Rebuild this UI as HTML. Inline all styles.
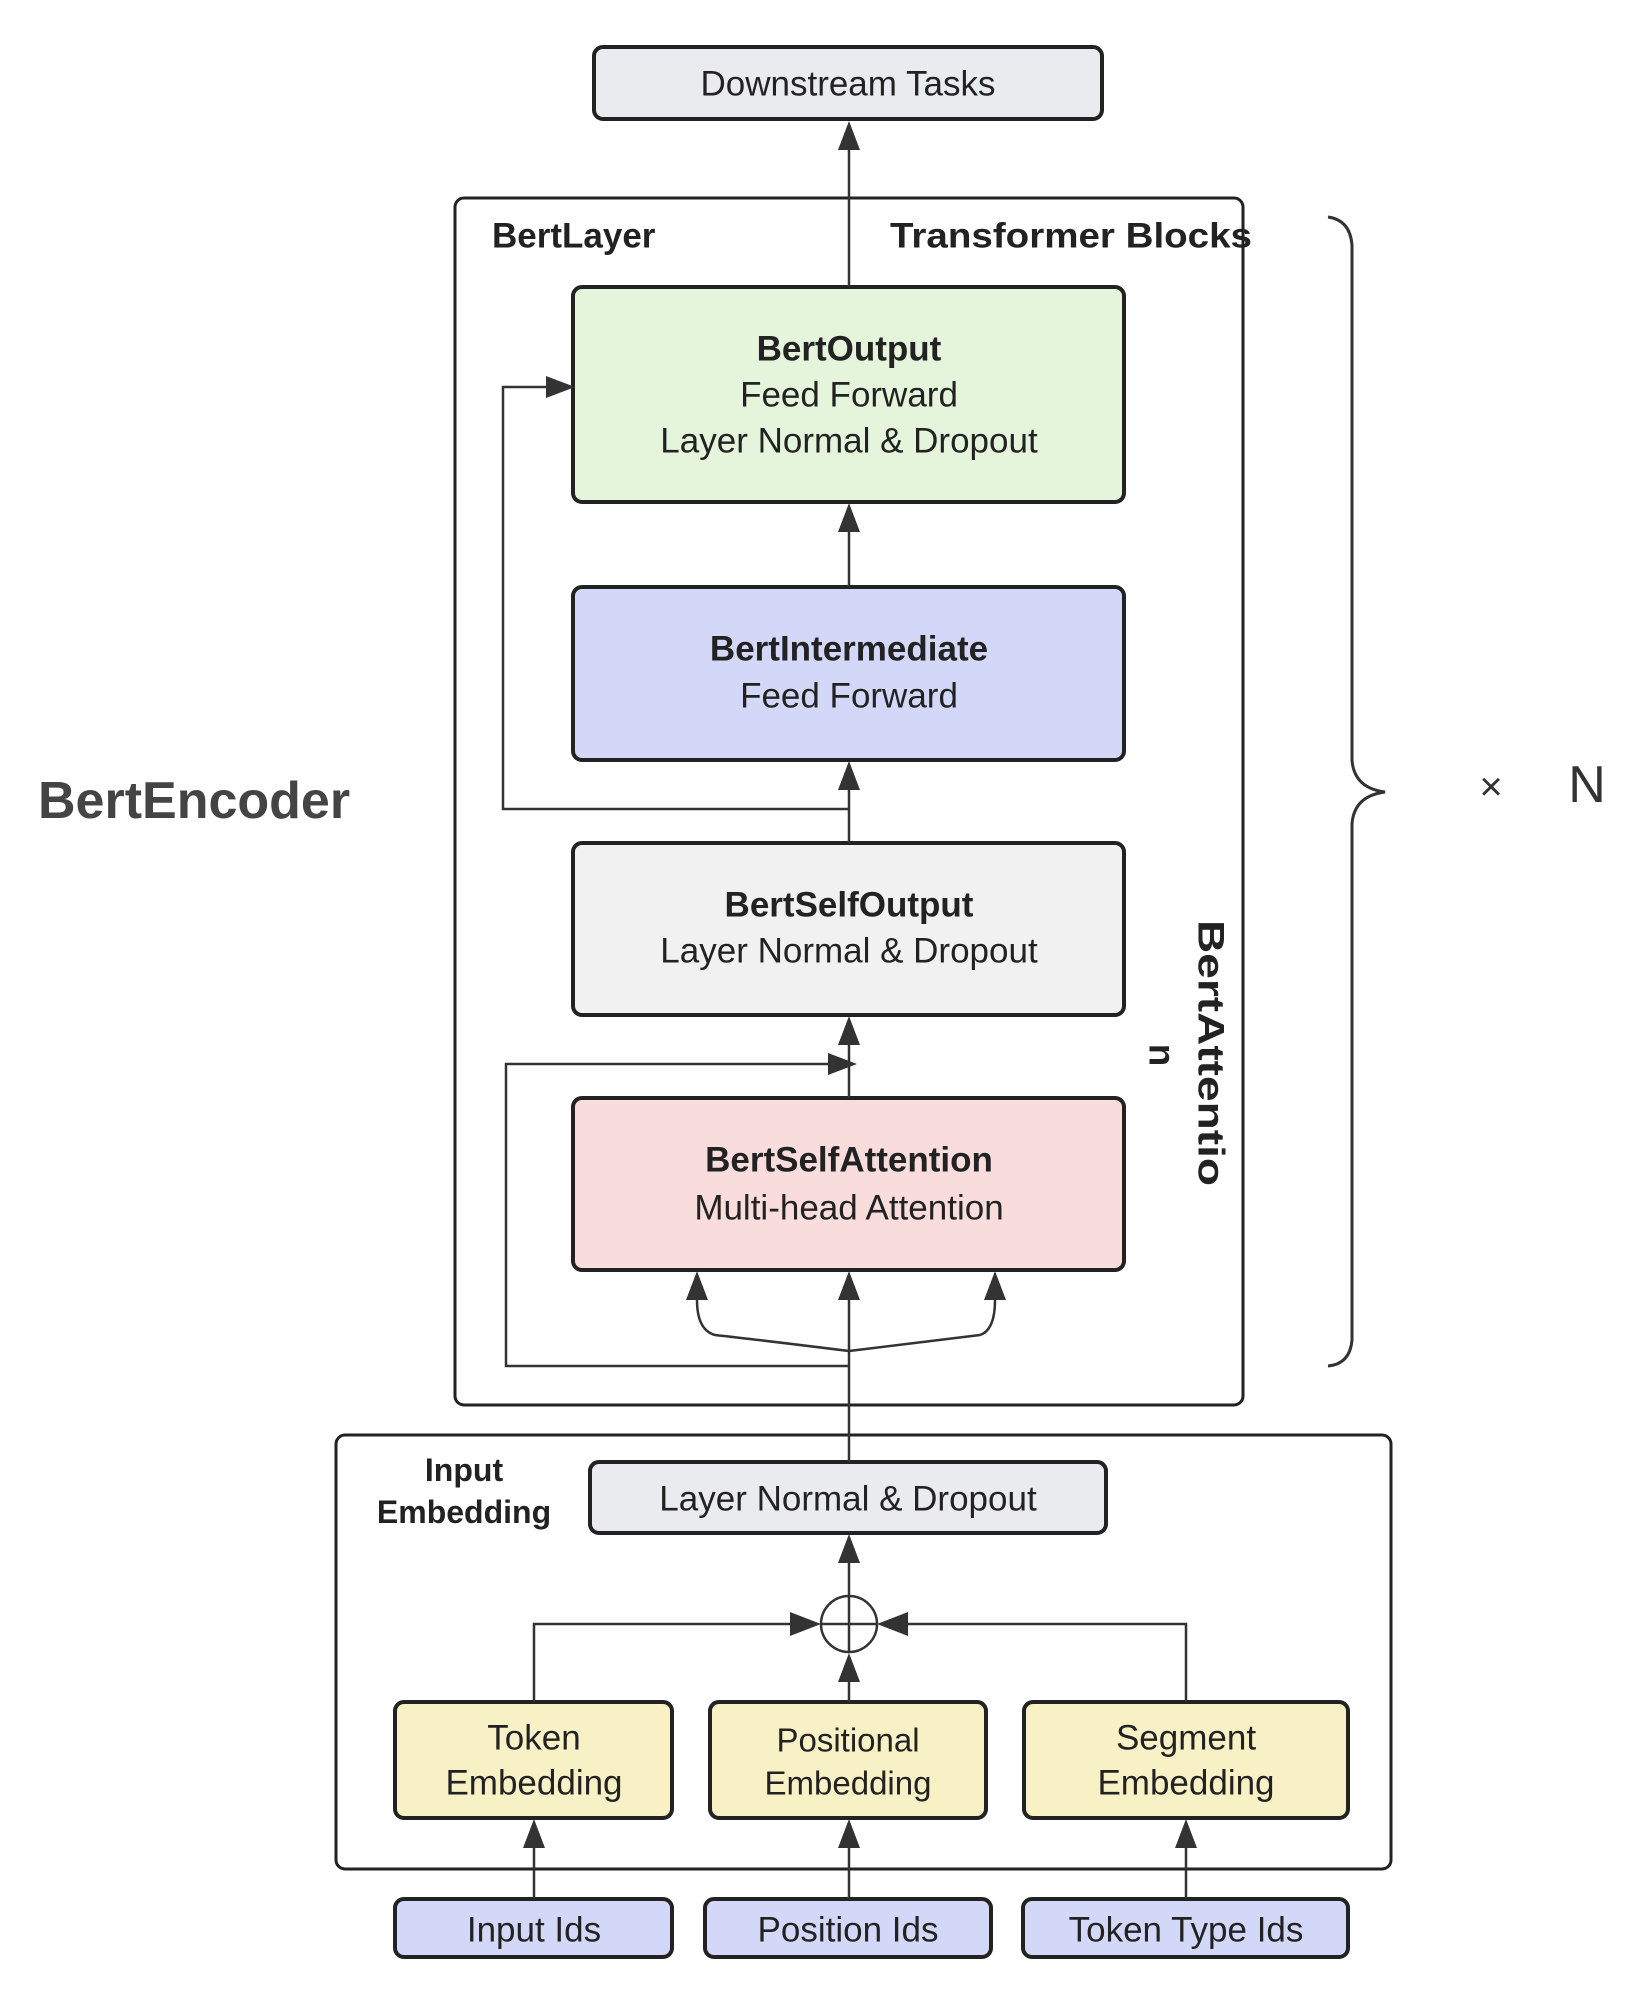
<!DOCTYPE html>
<html><head><meta charset="utf-8"><style>
html,body{margin:0;padding:0;background:#fff;}
svg{display:block;}
text{font-family:"Liberation Sans",sans-serif;fill:#222;}
.b{font-weight:bold;}
</style></head><body>
<svg width="1634" height="1989" viewBox="0 0 1634 1989" xmlns="http://www.w3.org/2000/svg">
<g stroke="#222" stroke-width="3" fill="none">
<rect x="455" y="198" width="788" height="1207" rx="9"/>
<rect x="336" y="1435" width="1055" height="434" rx="9"/>
</g>
<g stroke="#222" stroke-width="4">
<rect x="594" y="47" width="508" height="72" rx="9" fill="#e9ebee"/>
<rect x="573" y="287" width="551" height="215" rx="9" fill="#e4f5dc"/>
<rect x="573" y="587" width="551" height="173" rx="9" fill="#d4d8f8"/>
<rect x="573" y="843" width="551" height="172" rx="9" fill="#f1f1f1"/>
<rect x="573" y="1098" width="551" height="172" rx="9" fill="#f9dddd"/>
<rect x="590" y="1462" width="516" height="71" rx="9" fill="#e9ebee"/>
<rect x="395" y="1702" width="277" height="116" rx="9" fill="#f8f1c6"/>
<rect x="710" y="1702" width="276" height="116" rx="9" fill="#f8f1c6"/>
<rect x="1024" y="1702" width="324" height="116" rx="9" fill="#f8f1c6"/>
<rect x="395" y="1899" width="277" height="58" rx="9" fill="#d4d8f8"/>
<rect x="705" y="1899" width="286" height="58" rx="9" fill="#d4d8f8"/>
<rect x="1023" y="1899" width="325" height="58" rx="9" fill="#d4d8f8"/>
</g>
<g stroke="#333" stroke-width="2.5" fill="none">
<line x1="849" y1="287" x2="849" y2="140"/>
<line x1="849" y1="587" x2="849" y2="520"/>
<line x1="849" y1="843" x2="849" y2="780"/>
<polyline points="849,809 503,809 503,387 555,387"/>
<line x1="849" y1="1098" x2="849" y2="1035"/>
<polyline points="849,1366 506,1366 506,1064 835,1064"/>
<line x1="849" y1="1462" x2="849" y2="1290"/>
<path d="M849,1351 Q760,1340 715,1335 Q697,1330 697,1300 L697,1290"/>
<path d="M849,1351 Q940,1340 980,1335 Q995,1330 995,1300 L995,1290"/>
<line x1="849" y1="1596" x2="849" y2="1553"/>
<circle cx="849" cy="1624" r="28"/>
<line x1="821" y1="1624" x2="877" y2="1624"/>
<line x1="849" y1="1596" x2="849" y2="1652"/>
<line x1="849" y1="1702" x2="849" y2="1670"/>
<polyline points="534,1702 534,1624 800,1624"/>
<polyline points="1186,1702 1186,1624 898,1624"/>
<line x1="534" y1="1899" x2="534" y2="1838"/>
<line x1="849" y1="1899" x2="849" y2="1838"/>
<line x1="1186" y1="1899" x2="1186" y2="1838"/>
<path d="M1328,217 Q1350,220 1352,245 L1352,760 Q1354,788 1385,792 Q1354,796 1352,824 L1352,1340 Q1350,1364 1328,1366" stroke="#333" stroke-width="3"/>
</g>
<g fill="#333">
<polygon points="849,121 838,150 860,150"/>
<polygon points="849,503 838,532 860,532"/>
<polygon points="849,761 838,790 860,790"/>
<polygon points="849,1016 838,1045 860,1045"/>
<polygon points="575,387 546,376 546,398"/>
<polygon points="857,1064 828,1053 828,1075"/>
<polygon points="697,1271 686,1300 708,1300"/>
<polygon points="849,1271 838,1300 860,1300"/>
<polygon points="995,1271 984,1300 1006,1300"/>
<polygon points="849,1534 838,1563 860,1563"/>
<polygon points="849,1653 838,1682 860,1682"/>
<polygon points="821,1624 790,1612 790,1636"/>
<polygon points="877,1624 908,1612 908,1636"/>
<polygon points="534,1819 523,1848 545,1848"/>
<polygon points="849,1819 838,1848 860,1848"/>
<polygon points="1186,1819 1175,1848 1197,1848"/>
</g>
<g font-size="35" text-anchor="middle" dominant-baseline="central">
<text x="848" y="84">Downstream Tasks</text>
<text x="849" y="349" class="b">BertOutput</text>
<text x="849" y="395">Feed Forward</text>
<text x="849" y="441">Layer Normal &amp; Dropout</text>
<text x="849" y="649" class="b">BertIntermediate</text>
<text x="849" y="696">Feed Forward</text>
<text x="849" y="905" class="b">BertSelfOutput</text>
<text x="849" y="951">Layer Normal &amp; Dropout</text>
<text x="849" y="1160" class="b">BertSelfAttention</text>
<text x="849" y="1208">Multi-head Attention</text>
<text x="848" y="1499">Layer Normal &amp; Dropout</text>
<text x="534" y="1738">Token</text>
<text x="534" y="1783">Embedding</text>
<text x="848" y="1740" font-size="33">Positional</text>
<text x="848" y="1783" font-size="33">Embedding</text>
<text x="1186" y="1738">Segment</text>
<text x="1186" y="1783">Embedding</text>
<text x="534" y="1930">Input Ids</text>
<text x="848" y="1930">Position Ids</text>
<text x="1186" y="1930">Token Type Ids</text>
<text x="464" y="1470" class="b" font-size="32">Input</text>
<text x="464" y="1512" class="b" font-size="32">Embedding</text>
</g>
<g font-size="35" dominant-baseline="central">
<text x="492" y="236" class="b">BertLayer</text>
<text x="890" y="236" class="b" textLength="362" lengthAdjust="spacingAndGlyphs">Transformer Blocks</text>
<text x="38" y="801" class="b" font-size="52" style="fill:#444">BertEncoder</text>
</g>
<text x="1491" y="787" font-size="40" text-anchor="middle" dominant-baseline="central" style="fill:#333">×</text>
<text x="1587" y="785" font-size="52" text-anchor="middle" dominant-baseline="central" style="fill:#333">N</text>
<text transform="translate(1211,1053) rotate(90)" font-size="37" class="b" text-anchor="middle" dominant-baseline="central" textLength="266" lengthAdjust="spacingAndGlyphs">BertAttentio</text>
<text transform="translate(1162,1055) rotate(90)" font-size="37" class="b" text-anchor="middle" dominant-baseline="central">n</text>
</svg>
</body></html>
